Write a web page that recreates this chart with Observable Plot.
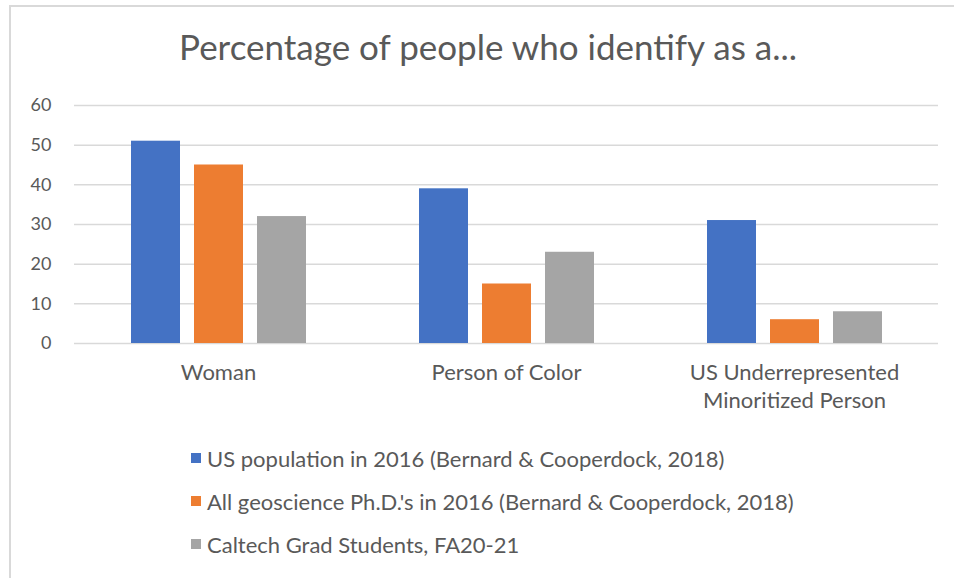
<!DOCTYPE html>
<html>
<head>
<meta charset="utf-8">
<script src="https://cdn.jsdelivr.net/npm/d3@7"></script>
<script src="https://cdn.jsdelivr.net/npm/@observablehq/plot@0.6"></script>
<style>
  html, body { margin: 0; padding: 0; background: #fff; }
  body { width: 954px; height: 578px; position: relative; overflow: hidden; font-family: Lato, "Open Sans", sans-serif; }
  #frame { position: absolute; left: 9px; top: 5px; width: 960px; height: 600px; border-left: 2px solid #d9d9d9; border-top: 2px solid #d9d9d9; box-sizing: border-box; }
  #title { position: absolute; left: 10px; width: 956px; top: 26px; text-align: center; font-size: 35px; color: #595959; line-height: 40px; white-space: nowrap; }
  #chart { position: absolute; left: 0; top: 0; }
  #legend { position: absolute; left: 191px; top: 444px; color: #595959; font-size: 22px; }
  .item { display: flex; align-items: center; height: 28px; margin-bottom: 15px; white-space: nowrap; }
  .sw { width: 10px; height: 10px; margin-right: 6px; flex: none; }
</style>
</head>
<body>
<div id="frame"></div>
<div id="title">Percentage of people who identify as a...</div>
<div id="chart"></div>
<div id="legend"></div>
<script>
const groups = ["Woman", "Person of Color", "US Underrepresented Minoritized Person"];
const groupLabels = ["Woman", "Person of Color", "US Underrepresented\nMinoritized Person"];
const series = [
  "US population in 2016 (Bernard & Cooperdock, 2018)",
  "All geoscience Ph.D.'s in 2016 (Bernard & Cooperdock, 2018)",
  "Caltech Grad Students, FA20-21"
];
const usPopulation = [51, 39, 31];
const geosciencePhD = [45, 15, 6];
const caltechGrad = [32, 23, 8];
const colors = ["#4472C4", "#ED7D31", "#A5A5A5"];
const yTicks = [0, 10, 20, 30, 40, 50, 60];

const seriesValues = [usPopulation, geosciencePhD, caltechGrad];
const data = groups.flatMap((g, i) => seriesValues.map((vals, j) => ({group: g, series: series[j], value: vals[i]})));

const chart = Plot.plot({
  width: 954,
  height: 420,
  marginLeft: 73,
  marginRight: 16,
  marginTop: 105,
  marginBottom: 77,
  style: {fontFamily: "Lato, 'Open Sans', sans-serif", color: "#595959", background: "transparent", overflow: "visible"},
  fx: {domain: groups, padding: 0, axis: null, label: null},
  x: {domain: series, paddingInner: 0.224, paddingOuter: 0.872, axis: null, label: null},
  y: {domain: [0, 60], axis: null, label: null},
  color: {domain: series, range: colors},
  marks: [
    Plot.ruleY(yTicks, {stroke: "#d9d9d9", strokeWidth: 1.5}),
    Plot.barY(data, {fx: "group", x: "series", y: "value", fill: "series"}),
    Plot.axisY(yTicks, {tickSize: 0, tickPadding: 23, fontSize: 18, fill: "#595959", label: null, tickFormat: d => String(d)}),
    Plot.axisFx({anchor: "bottom", tickSize: 0, tickPadding: 16, fontSize: 22, lineHeight: 1.3, fill: "#595959", label: null,
      tickFormat: d => groupLabels[groups.indexOf(d)]})
  ]
});
document.getElementById("chart").appendChild(chart);

const legend = document.getElementById("legend");
series.forEach((s, i) => {
  const item = document.createElement("div");
  item.className = "item";
  const sw = document.createElement("span");
  sw.className = "sw";
  sw.style.background = colors[i];
  const label = document.createElement("span");
  label.textContent = s;
  item.appendChild(sw);
  item.appendChild(label);
  legend.appendChild(item);
});
</script>
</body>
</html>
